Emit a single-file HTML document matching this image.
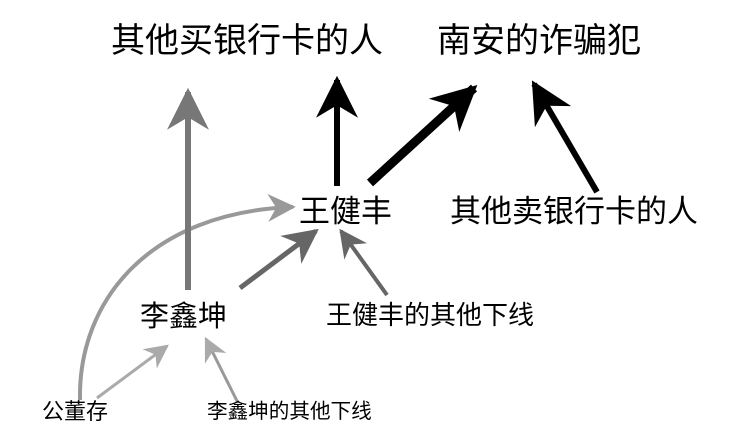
<!DOCTYPE html>
<html><head><meta charset="utf-8"><style>
html,body{margin:0;padding:0;background:#fff;}
.c{position:relative;width:738px;height:446px;overflow:hidden;font-family:"Liberation Sans","Noto Sans CJK SC",sans-serif;color:#000;}
.t{position:absolute;white-space:nowrap;line-height:1;}
svg{position:absolute;left:0;top:0;}
</style></head><body><div class="c">
<svg width="738" height="446" viewBox="0 0 738 446">
<defs>
<marker id="mk" viewBox="0 0 10 10" refX="9" refY="5" markerWidth="7" markerHeight="7" orient="auto" markerUnits="strokeWidth"><path d="M10,5 L0,0 L3,5 L0,10 z" fill="#000"/></marker>
<marker id="mk2" viewBox="0 0 10 10" refX="9" refY="5" markerWidth="5" markerHeight="5" orient="auto" markerUnits="strokeWidth"><path d="M10,5 L0,0 L3,5 L0,10 z" fill="#000"/></marker>
<marker id="mg" viewBox="0 0 10 10" refX="9" refY="5" markerWidth="7" markerHeight="7" orient="auto" markerUnits="strokeWidth"><path d="M10,5 L0,0 L3,5 L0,10 z" fill="#777"/></marker>
<marker id="mg6" viewBox="0 0 10 10" refX="9" refY="5" markerWidth="7" markerHeight="7" orient="auto" markerUnits="strokeWidth"><path d="M10,5 L0,0 L3,5 L0,10 z" fill="#666"/></marker>
<marker id="mg9" viewBox="0 0 10 10" refX="9" refY="5" markerWidth="7" markerHeight="7" orient="auto" markerUnits="strokeWidth"><path d="M10,5 L0,0 L3,5 L0,10 z" fill="#999"/></marker>
<marker id="mga" viewBox="0 0 10 10" refX="9" refY="5" markerWidth="8" markerHeight="8" orient="auto" markerUnits="strokeWidth"><path d="M10,5 L0,0 L3,5 L0,10 z" fill="#aaa"/></marker>
</defs>
<path d="M80,400 C78,300 150,212 293,207" fill="none" stroke="#999" stroke-width="4" marker-end="url(#mg9)"/>
<line x1="188" y1="290" x2="188" y2="92" stroke="#777" stroke-width="6" marker-end="url(#mg)"/>
<line x1="337" y1="186" x2="337" y2="80" stroke="#000" stroke-width="6" marker-end="url(#mk)"/>
<line x1="370" y1="183" x2="474" y2="88" stroke="#000" stroke-width="9" marker-end="url(#mk2)"/>
<line x1="597" y1="192" x2="534" y2="84" stroke="#000" stroke-width="6" marker-end="url(#mk)"/>
<line x1="240" y1="288" x2="316" y2="231" stroke="#666" stroke-width="5" marker-end="url(#mg6)"/>
<line x1="387" y1="295" x2="341" y2="231" stroke="#666" stroke-width="4" marker-end="url(#mg6)"/>
<line x1="97" y1="398" x2="167" y2="346" stroke="#aaa" stroke-width="3" marker-end="url(#mga)"/>
<line x1="238" y1="403" x2="206" y2="339" stroke="#999" stroke-width="3" marker-end="url(#mga)"/>
</svg>
<div class="t" style="left:111px;top:24px;font-size:34px;">其他买银行卡的人</div>
<div class="t" style="left:437px;top:24px;font-size:34px;">南安的诈骗犯</div>
<div class="t" style="left:299px;top:196px;font-size:31px;">王健丰</div>
<div class="t" style="left:450px;top:196px;font-size:31px;">其他卖银行卡的人</div>
<div class="t" style="left:140px;top:303px;font-size:29px;">李鑫坤</div>
<div class="t" style="left:326px;top:302px;font-size:26px;">王健丰的其他下线</div>
<div class="t" style="left:42px;top:401px;font-size:22px;">公董存</div>
<div class="t" style="left:207px;top:402px;font-size:20.6px;">李鑫坤的其他下线</div>
</div></body></html>
